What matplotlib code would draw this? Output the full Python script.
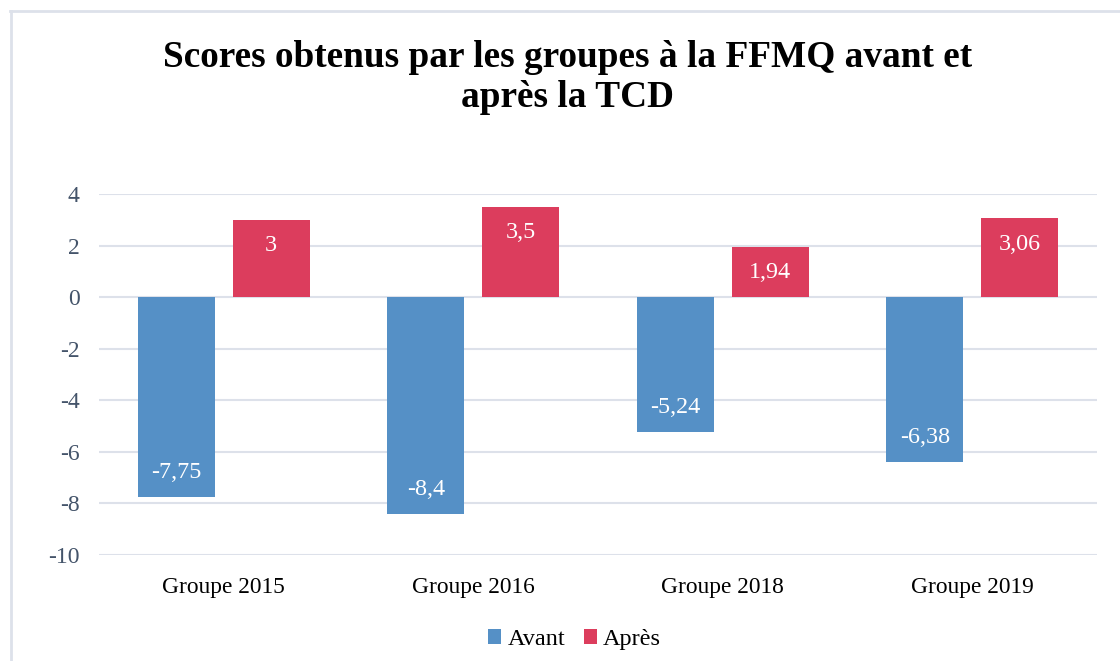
import matplotlib.pyplot as plt
from matplotlib.lines import Line2D
import numpy as np

groupes = ['Groupe 2015', 'Groupe 2016', 'Groupe 2018', 'Groupe 2019']
avant = [-7.75, -8.4, -5.24, -6.38]
apres = [3, 3.5, 1.94, 3.06]
yticks = [-10, -8, -6, -4, -2, 0, 2, 4]

bleu = '#5590c6'
rouge = '#dc3d5d'
gris_texte = '#44546a'

plt.rcParams['font.family'] = ['Liberation Serif', 'DejaVu Serif']

fig = plt.figure(figsize=(11.2, 6.61), dpi=100)
ax = fig.add_axes([0.0884, 0.1604, 0.8911, 0.5461])

# cadre gris en haut et a gauche
fig.add_artist(Line2D([10.5 / 1120, 10.5 / 1120], [0, 1 - 11 / 661], color='#dde1ea', lw=2))
fig.add_artist(Line2D([10 / 1120, 1], [1 - 11 / 661, 1 - 11 / 661], color='#dde1ea', lw=2))

x = np.arange(len(groupes))
w = 0.309
b1 = ax.bar(x - 0.19, avant, w, color=bleu, label='Avant', zorder=3)
b2 = ax.bar(x + 0.19, apres, w, color=rouge, label='Après', zorder=3)

def fmt(v):
    return ('%g' % v).replace('.', ',')

for xi, v in zip(x, avant):
    ax.text(xi - 0.19, v + 0.95, fmt(v), ha='center', va='center', color='white', fontsize=17.4, zorder=4)
for xi, v in zip(x, apres):
    ax.text(xi + 0.19, v - 1.0, fmt(v), ha='center', va='center', color='white', fontsize=17.4, zorder=4)

ax.set_xlim(-0.5, 3.5)
ax.set_ylim(-10, 4)
ax.set_yticks(yticks)
ax.set_yticklabels([str(t) for t in yticks], color=gris_texte, fontsize=17)
ax.set_xticks(x)
ax.set_xticklabels(groupes, fontsize=16.8, color='black')
ax.tick_params(length=0)
ax.tick_params(axis='y', pad=14)
ax.tick_params(axis='x', pad=16)
ax.grid(axis='y', color='#dde1ea', lw=1.5, zorder=0)
for s in ax.spines.values():
    s.set_visible(False)

fig.suptitle('Scores obtenus par les groupes à la FFMQ avant et\naprès la TCD',
             fontsize=26.8, fontweight='bold', x=0.507, y=0.94, linespacing=1.2)

fig.legend(handles=[b1, b2], loc='center', bbox_to_anchor=(0.513, 0.032), ncol=2,
           frameon=False, fontsize=17.5, handlelength=0.55, handleheight=0.55,
           handletextpad=0.25, columnspacing=0.75)

fig.savefig('out.png', dpi=100)
